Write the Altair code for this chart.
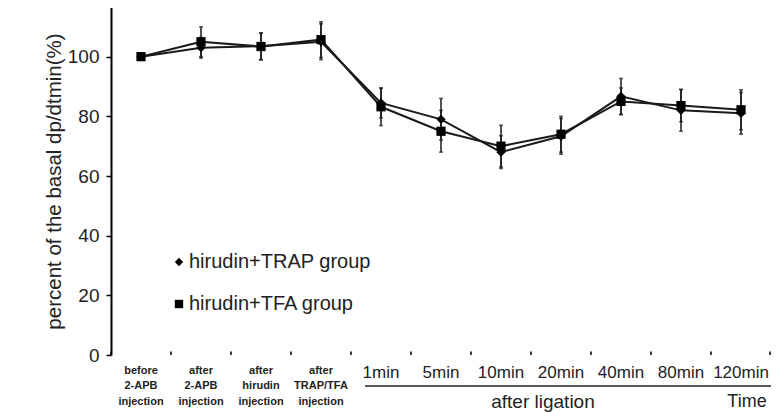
import altair as alt
import pandas as pd

categories = ["before|2-APB|injection", "after|2-APB|injection", "after|hirudin|injection",
              "after|TRAP/TFA|injection", "1min", "5min", "10min", "20min", "40min", "80min", "120min"]
series_names = ["hirudin+TRAP group", "hirudin+TFA group"]
trap_vals = [100, 103, 103.5, 105, 84.5, 79, 68, 73.3, 86.7, 82, 81]
trap_err = [1, 3.5, 4.5, 6, 5, 7, 5.5, 6, 6, 7, 7]
tfa_vals = [100, 105, 103.4, 105.7, 83.2, 75, 70, 74, 85, 83.6, 82.2]
tfa_err = [1, 5, 4.5, 6, 6.3, 7, 7, 6, 4.5, 5.4, 6.7]
y_ticks = [0, 20, 40, 60, 80, 100, 120]
notes = ["after ligation", "Time"]

rows = []
for name, vals, errs in [(series_names[0], trap_vals, trap_err), (series_names[1], tfa_vals, tfa_err)]:
    for c, v, e in zip(categories, vals, errs):
        rows.append({"cat": c, "series": name, "val": v, "lo": v - e, "hi": v + e})
df = pd.DataFrame(rows)
cat_df = pd.DataFrame({"cat": categories})
one = pd.DataFrame({"k": [0]})

FONT = "Liberation Sans"
W, H = 660, 358

xscale = alt.Scale(type="band", domain=categories, paddingInner=0, paddingOuter=0)
yscale = alt.Scale(domain=[0, 120], nice=False, zero=True)

x_axis = alt.Axis(
    title=None, ticks=False, domain=False, labelAngle=0,
    labelExpr="split(datum.label, '|')",
    labelFontSize={"condition": {"test": "indexof(datum.value, '|') >= 0", "value": 11}, "value": 17},
    labelFontWeight={"condition": {"test": "indexof(datum.value, '|') >= 0", "value": "bold"}, "value": "normal"},
    labelLineHeight=15.5, labelBaseline="top", labelPadding=9, labelColor="#222",
    labelFont=FONT, labelOverlap=False, labelBound=False, labelFlush=False,
)
y_axis = alt.Axis(
    title="percent of the basal dp/dtmin(%)", values=y_ticks, grid=False,
    tickSize=5, tickWidth=1.5, tickColor="black", domainColor="black", domainWidth=2,
    labelFontSize=19, labelPadding=7, labelColor="#222", labelFont=FONT,
    titleFontSize=20.5, titleFontWeight="normal", titleFont=FONT, titleColor="#222", titlePadding=3,
    titleY=184,
)

X = alt.X("cat:N", scale=xscale, axis=x_axis, sort=categories)
Y = alt.Y("val:Q", scale=yscale, axis=y_axis)
Xp = alt.X("cat:N", scale=xscale, sort=categories)

lines = alt.Chart(df).mark_line(color="#1a1a1a", strokeWidth=2).encode(
    x=X, y=Y, detail="series:N"
)
bars = alt.Chart(df).mark_rule(color="#1a1a1a", strokeWidth=1.5).encode(
    x=Xp, y=alt.Y("lo:Q", scale=yscale), y2="hi:Q"
)
caps_hi = alt.Chart(df).mark_tick(color="#1a1a1a", size=4, thickness=1.5).encode(
    x=Xp, y=alt.Y("hi:Q", scale=yscale)
)
caps_lo = alt.Chart(df).mark_tick(color="#1a1a1a", size=4, thickness=1.5).encode(
    x=Xp, y=alt.Y("lo:Q", scale=yscale)
)
points = alt.Chart(df).mark_point(filled=True, color="black", opacity=1, size=85).encode(
    x=Xp,
    y=alt.Y("val:Q", scale=yscale),
    shape=alt.Shape("series:N", scale=alt.Scale(domain=series_names, range=["diamond", "square"]),
                    legend=alt.Legend(title=None, orient="none", legendX=58, legendY=255,
                                      labelFontSize=20, labelFont=FONT, labelColor="#222", labelLimit=0,
                                      symbolSize=70, symbolFillColor="black", symbolStrokeColor="black",
                                      symbolStrokeWidth=0, rowPadding=22, labelOffset=0, padding=0)),
)
ticks = alt.Chart(cat_df).mark_rule(color="black", strokeWidth=1.5).encode(
    x=alt.X("cat:N", scale=xscale, sort=categories, bandPosition=0),
    y=alt.datum(0), y2=alt.datum(1.2)
)
end_tick = alt.Chart(one).mark_rule(color="black", strokeWidth=1.5).encode(
    x=alt.value(W - 1), y=alt.datum(0), y2=alt.datum(1.2)
)
underline = alt.Chart(one).mark_rule(color="#222", strokeWidth=1.5).encode(
    x=alt.value(254), x2=alt.value(660), y=alt.value(389)
)
lig_text = alt.Chart(one).mark_text(text=notes[0], fontSize=19, font=FONT, color="#222",
                                    baseline="middle", align="center").encode(
    x=alt.value(432), y=alt.value(405)
)
time_text = alt.Chart(one).mark_text(text=notes[1], fontSize=18, font=FONT, color="#222",
                                     baseline="middle", align="center").encode(
    x=alt.value(636), y=alt.value(405)
)

chart = alt.layer(lines, bars, caps_hi, caps_lo, points, ticks, end_tick, underline, lig_text, time_text).properties(
    width=W, height=H,
    autosize=alt.AutoSizeParams(type="none"),
    padding={"top": -11, "left": 103, "right": 0, "bottom": 60},
).configure_view(stroke=None).configure_axisX(domainColor="black", domainWidth=2)

chart.save("out.html", embed_options={"renderer": "svg", "actions": False})
